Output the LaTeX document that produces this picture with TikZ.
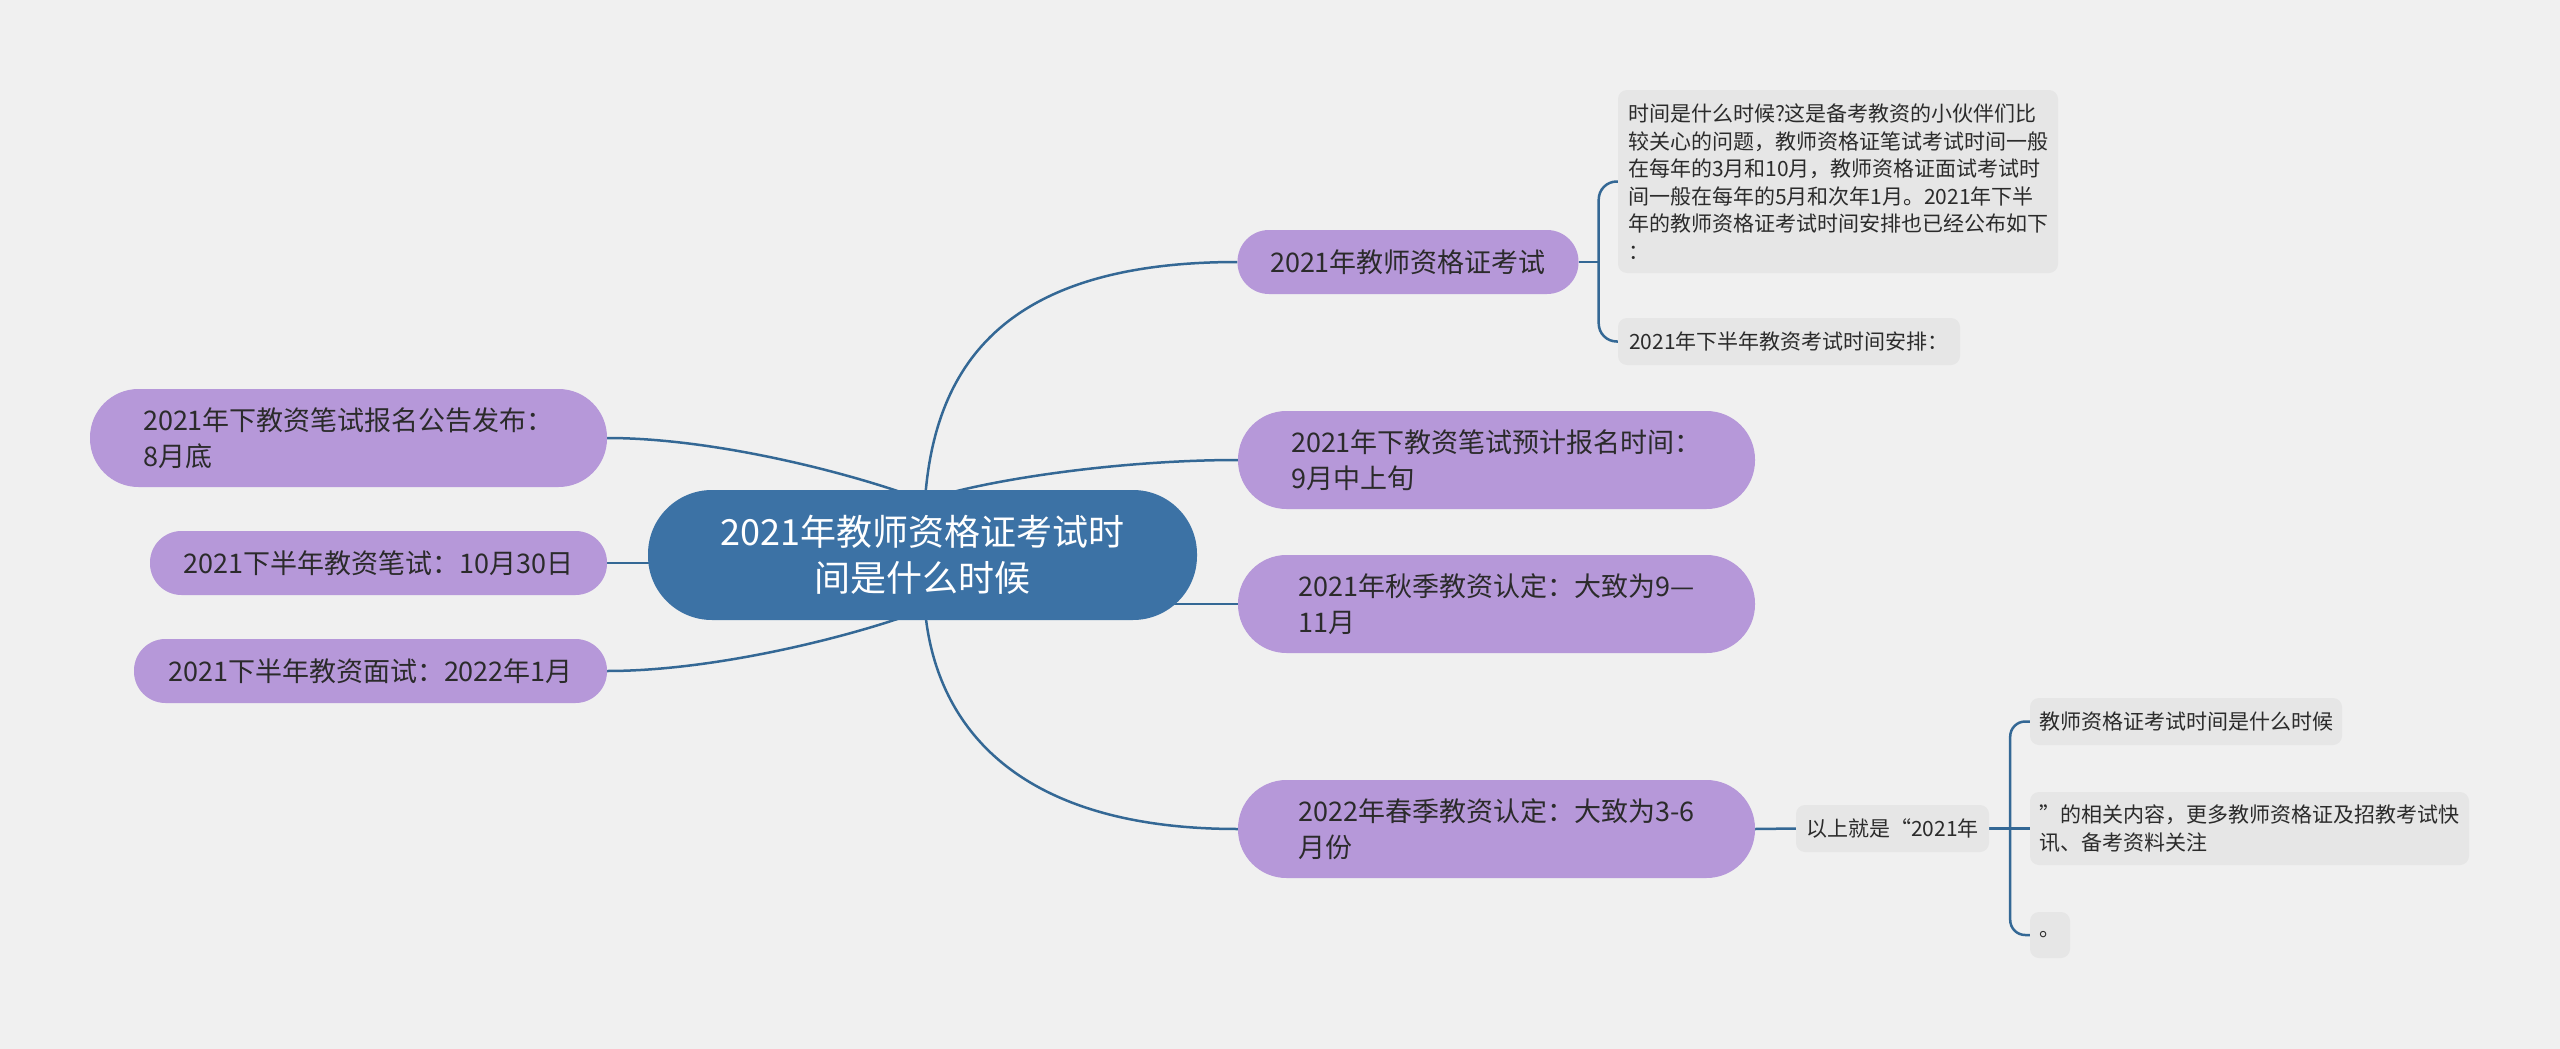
\documentclass[tikz,border=0pt]{standalone}
\usepackage{fontspec}
\newfontfamily\cjk{Noto Sans CJK SC}
\usetikzlibrary{calc,backgrounds}
\definecolor{paper}{HTML}{F0F0F0}
\definecolor{rootfill}{HTML}{3C72A5}
\definecolor{topicfill}{HTML}{B698D9}
\definecolor{leaffill}{HTML}{E6E6E6}
\definecolor{linkcol}{HTML}{346895}
\definecolor{ink}{HTML}{2B2B2B}
\tikzset{
  root/.style={fill=rootfill, text=white, align=center, inner sep=0pt,
    minimum width=549pt, minimum height=130pt, rounded corners=64pt,
    font=\cjk\fontsize{36pt}{46pt}\selectfont},
  topic/.style={fill=topicfill, text=ink, align=left, inner sep=0pt,
    font=\cjk\fontsize{27pt}{36pt}\selectfont},
  topicA/.style={topic, minimum height=64pt, rounded corners=31.5pt},
  topicB/.style={topic, minimum height=98pt, rounded corners=48.5pt},
  leaf/.style={fill=leaffill, text=ink, align=left, inner sep=0pt,
    rounded corners=9pt, font=\cjk\fontsize{21pt}{27.5pt}\selectfont},
  link/.style={draw=linkcol, line width=2.5pt},
}

\begin{document}
\begin{tikzpicture}[x=1pt, y=-1pt]
\useasboundingbox (0,0) rectangle (2560,1049);

% centre
\node[root] (root) at (922.5,555) {2021年教师资格证考试时\\间是什么时候};

% right side
\node[topicA, minimum width=341pt] (r1) at (1408,262) {2021年教师资格证考试};
\node[topicB, minimum width=517pt] (r2) at (1496.5,460) {2021年下教资笔试预计报名时间：\\9月中上旬};
\node[topicB, minimum width=517pt] (r3) at (1496.5,604) {2021年秋季教资认定：大致为9—\\11月};
\node[topicB, minimum width=517pt] (r4) at (1496.5,829) {2022年春季教资认定：大致为3-6\\月份};

% left side
\node[topicB, minimum width=517pt] (l1) at (348.5,438) {2021年下教资笔试报名公告发布：\\8月底};
\node[topicA, minimum width=457pt] (l2) at (378.5,563) {2021下半年教资笔试：10月30日};
\node[topicA, minimum width=473pt] (l3) at (370.5,671) {2021下半年教资面试：2022年1月};

% leaves of r1
\node[leaf, minimum width=440pt, minimum height=183pt] (a1) at (1838,181.5)
  {时间是什么时候?这是备考教资的小伙伴们比\\较关心的问题，教师资格证笔试考试时间一般\\在每年的3月和10月，教师资格证面试考试时\\间一般在每年的5月和次年1月。2021年下半\\年的教师资格证考试时间安排也已经公布如下\\：};
\node[leaf, minimum width=342pt, minimum height=47pt] (a2) at (1789,341.5) {2021年下半年教资考试时间安排：};

% leaves of r4
\node[leaf, minimum width=193pt, minimum height=47pt] (b0) at (1892.5,828.5) {以上就是“2021年};
\node[leaf, minimum width=312pt, minimum height=47pt] (b1) at (2186,721.5) {教师资格证考试时间是什么时候};
\node[leaf, minimum width=439pt, minimum height=73pt] (b2) at (2249.5,828.5) {”的相关内容，更多教师资格证及招教考试快\\讯、备考资料关注};
\node[leaf, minimum width=40pt, minimum height=46pt] (b3) at (2050,935) {。};

\begin{pgfonlayer}{background}
\fill[paper] (0,0) rectangle (2560,1049);
\coordinate (rtop) at ($(root.center)+(2.5,-55)$);
\coordinate (rbot) at ($(root.center)+(2.5,55)$);
\coordinate (ltop) at ($(root.center)+(0,-55)$);
\coordinate (lbot) at ($(root.center)+(0,55)$);

% main branches
\draw[link] (rtop) .. controls +(10,-140) and +(-228,0) .. (r1.west);
\draw[link] (rtop) .. controls +(60,-20) and +(-120,0) .. (r2.west);
\draw[link] (root.center |- r3.west) -- (r3.west);
\draw[link] (rbot) .. controls +(10,110) and +(-228,0) .. (r4.west);
\draw[link] (ltop) .. controls +(-62,-24) and +(112,0) .. (l1.east);
\draw[link] (root.center |- l2.east) -- (l2.east);
\draw[link] (lbot) .. controls +(-62,24) and +(112,0) .. (l3.east);

% brackets
\coordinate (k1) at ($(r1.east)+(20,0)$);
\draw[link] (r1.east) -- (k1);
\draw[link, rounded corners=18pt] (k1) |- (a1.west);
\draw[link, rounded corners=18pt] (k1) |- (a2.west);

\draw[link] (r4.east) -- (b0.west);
\coordinate (k2) at ($(b0.east)+(21,0)$);
\draw[link] (b0.east) -- (k2);
\draw[link, rounded corners=15pt] (k2) |- (b1.west);
\draw[link] (k2) -- (b2.west);
\draw[link, rounded corners=15pt] (k2) |- (b3.west);
\end{pgfonlayer}
\end{tikzpicture}
\end{document}
